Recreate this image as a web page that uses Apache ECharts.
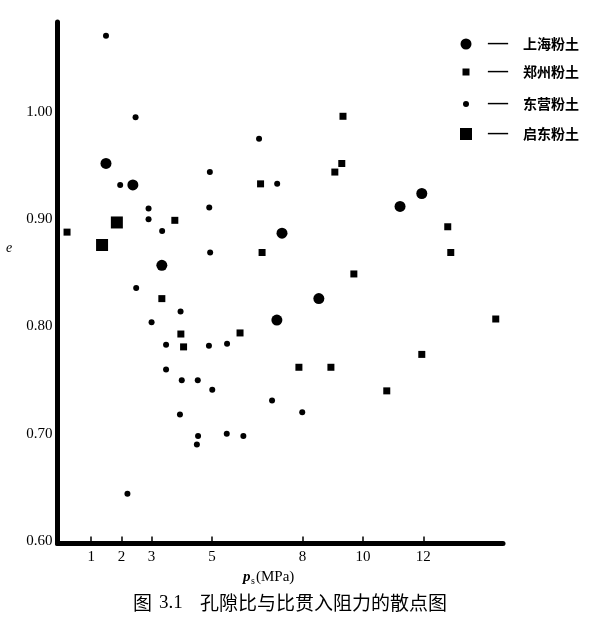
<!DOCTYPE html>
<html><head><meta charset="utf-8">
<script src="https://cdn.jsdelivr.net/npm/echarts@6/dist/echarts.min.js"></script>
<style>html,body{margin:0;padding:0;background:#fff}#c{width:600px;height:626px}</style>
</head><body><div id="c"></div>
<script>
// ---- data ----
const seriesNames = ['上海粉土', '郑州粉土', '东营粉土', '启东粉土'];
const shanghai = [[1.49,0.952],[2.38,0.932],[3.34,0.857],[7.32,0.887],[11.23,0.912],[11.95,0.924],[8.54,0.826],[7.15,0.806]];
const zhengzhou = [[9.34,0.996],[9.30,0.952],[9.07,0.944],[6.61,0.933],[3.77,0.899],[0.20,0.888],[6.66,0.869],[12.81,0.893],[12.91,0.869],[9.70,0.849],[3.34,0.826],[3.97,0.793],[4.06,0.781],[5.93,0.794],[7.88,0.762],[8.94,0.762],[11.95,0.774],[10.79,0.740],[14.40,0.807]];
const dongying = [[1.49,1.071],[2.47,0.995],[6.56,0.975],[4.93,0.944],[1.96,0.932],[7.16,0.933],[2.90,0.910],[2.90,0.900],[4.91,0.911],[3.35,0.889],[4.94,0.869],[2.49,0.836],[3.96,0.814],[3.00,0.804],[3.48,0.783],[4.90,0.782],[5.50,0.784],[3.48,0.760],[4.00,0.750],[4.53,0.750],[5.01,0.741],[6.99,0.731],[3.94,0.718],[7.99,0.720],[4.54,0.698],[5.49,0.700],[6.04,0.698],[4.50,0.690],[2.20,0.644]];
const qidong = [[1.85,0.897],[1.36,0.876]];
const xTicks = [1, 2, 3, 5, 8, 10, 12];
const yTicks = [0.6, 0.7, 0.8, 0.9, 1.0];
const xAxisTitle = ['p', 's', '(MPa)'];
const yAxisTitle = 'e';
const caption = ['图', '3.1', '孔隙比与比贯入阻力的散点图'];

// ---- styling ----
const seriesData = [shanghai, zhengzhou, dongying, qidong];
const symbols = ['circle', 'rect', 'circle', 'rect'];
const sizes = [11, 7, 6, 12];
const legendRowsY = [44, 72, 104, 134];

const chart = echarts.init(document.getElementById('c'), null, {renderer: 'canvas'});
const serif = '"Liberation Serif", "DejaVu Serif", serif';
const cjk = '"Noto Sans CJK SC", sans-serif';

const legends = seriesNames.map((n, i) => {
  const w = sizes[i];
  return {
    data: [{name: n, icon: symbols[i]}],
    orient: 'vertical', padding: 0, selectedMode: false,
    left: 466 - w / 2, top: legendRowsY[i] - 10,
    itemWidth: w, itemHeight: w,
    formatter: nm => '{d|—}{g|}' + nm,
    textStyle: {
      color: '#000', fontSize: 14, lineHeight: 20, fontFamily: cjk, fontWeight: 'bold',
      padding: [0, 0, 0, 22 - w / 2 - 5],
      rich: {
        d: {fontFamily: serif, fontSize: 20, lineHeight: 20, color: '#000', fontWeight: 'bold'},
        g: {width: 15}
      }
    }
  };
});

const option = {
  animation: false,
  backgroundColor: '#fff',
  grid: {left: 57.5, right: 600 - 503, top: 22, bottom: 82.5, containLabel: false},
  xAxis: {
    type: 'value', min: -0.116, max: 14.64,
    axisLine: {show: true, onZero: false, lineStyle: {color: '#000', width: 5}},
    axisTick: {show: true, inside: true, length: 7, customValues: xTicks, lineStyle: {color: '#000', width: 1.5}},
    axisLabel: {show: true, customValues: xTicks, margin: 6, color: '#000', fontSize: 15, fontFamily: serif},
    splitLine: {show: false}
  },
  yAxis: {
    type: 'value', min: 0.5977, max: 1.0839,
    axisLine: {show: true, onZero: false, lineStyle: {color: '#000', width: 5}},
    axisTick: {show: false},
    axisLabel: {show: true, customValues: yTicks, margin: 5, color: '#000', fontSize: 15, fontFamily: serif,
      formatter: v => v.toFixed(2)},
    splitLine: {show: false}
  },
  legend: legends,
  series: seriesNames.map((n, i) => ({
    name: n, type: 'scatter', symbol: symbols[i], symbolSize: sizes[i],
    data: seriesData[i], itemStyle: {color: '#000', opacity: 1}
  })),
  graphic: [
    {type: 'text', x: 6, y: 248, style: {text: yAxisTitle, font: 'italic 14px ' + serif, fill: '#000', textAlign: 'left', textVerticalAlign: 'middle'}},
    {type: 'text', x: 243, y: 577, style: {text: xAxisTitle[0], font: 'italic bold 15px ' + serif, fill: '#000', textAlign: 'left', textVerticalAlign: 'middle'}},
    {type: 'text', x: 251, y: 581, style: {text: xAxisTitle[1], font: '10px ' + serif, fill: '#000', textAlign: 'left', textVerticalAlign: 'middle'}},
    {type: 'text', x: 256, y: 577, style: {text: xAxisTitle[2], font: '15px ' + serif, fill: '#000', textAlign: 'left', textVerticalAlign: 'middle'}},
    {type: 'text', x: 133, y: 603, style: {text: caption[0], font: '19px ' + cjk, fill: '#000', textAlign: 'left', textVerticalAlign: 'middle'}},
    {type: 'text', x: 159, y: 603, style: {text: caption[1], font: '19px ' + serif, fill: '#000', textAlign: 'left', textVerticalAlign: 'middle'}},
    {type: 'text', x: 200, y: 603, style: {text: caption[2], font: '19px ' + cjk, fill: '#000', textAlign: 'left', textVerticalAlign: 'middle'}}
  ]
};
chart.setOption(option);
</script></body></html>
